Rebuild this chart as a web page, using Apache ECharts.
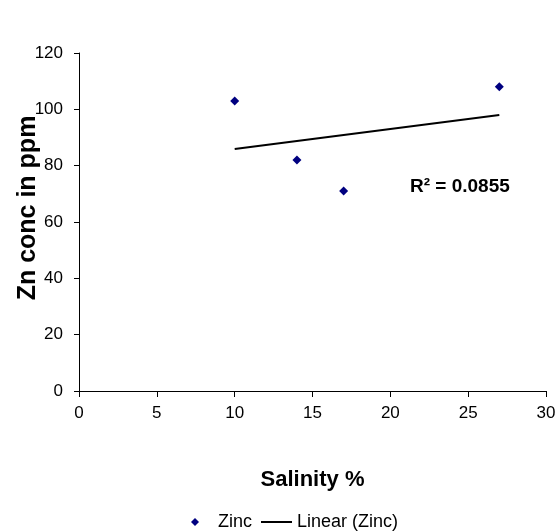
<!DOCTYPE html>
<html>
<head>
<meta charset="utf-8">
<script src="https://cdn.jsdelivr.net/npm/echarts@6/dist/echarts.min.js"></script>
<style>
html, body { margin: 0; padding: 0; background: #fff; }
#Mycharts { width: 557px; height: 531px; }
</style>
</head>
<body>
<div id="Mycharts"></div>
<script>
// data
const salinity = [10, 14, 17, 27]
const zinc = [103, 82, 71, 108]
// linear trend line end points (as drawn)
const trendX = [10, 27]
const trendY = [85.9, 98.0]
const r2Text = 'R² = 0.0855'

const font = "'Liberation Sans', Arial, sans-serif"

let Mycharts = echarts.init(document.getElementById('Mycharts'))
Mycharts.setOption({
  animation: false,
  textStyle: { fontFamily: font },
  grid: { left: 79, right: 11, top: 53, bottom: 140, containLabel: false, outerBoundsMode: 'none' },
  legend: [
    {
      left: 186,
      top: 508,
      itemWidth: 8,
      itemHeight: 8,
      data: [{ name: 'Zinc', icon: 'diamond' }],
      textStyle: { fontSize: 18, color: '#000', fontFamily: font, padding: [0, 0, 0, 14] }
    },
    {
      left: 256,
      top: 508,
      itemWidth: 31,
      itemHeight: 2,
      data: [{ name: 'Linear (Zinc)', icon: 'rect' }],
      textStyle: { fontSize: 18, color: '#000', fontFamily: font }
    }
  ],
  xAxis: {
    type: 'value',
    min: 0,
    max: 30,
    interval: 5,
    name: 'Salinity %',
    nameLocation: 'middle',
    nameGap: 78,
    nameMoveOverlap: false,
    nameTextStyle: { fontSize: 22, fontWeight: 'bold', color: '#000', fontFamily: font },
    axisLine: { lineStyle: { color: '#000', width: 1 } },
    axisTick: { show: true, length: 6, lineStyle: { color: '#000' } },
    axisLabel: { fontSize: 17, color: '#000', margin: 14, fontFamily: font },
    splitLine: { show: false }
  },
  yAxis: {
    type: 'value',
    min: 0,
    max: 120,
    interval: 20,
    name: 'Zn conc in ppm',
    nameLocation: 'middle',
    nameGap: 38,
    nameMoveOverlap: false,
    nameTextStyle: { fontSize: 25, fontWeight: 'bold', color: '#000', fontFamily: font, padding: [0, 0, 0, 28] },
    axisLine: { show: true, lineStyle: { color: '#000', width: 1 } },
    axisTick: { show: true, length: 5, lineStyle: { color: '#000' } },
    axisLabel: { fontSize: 17, color: '#000', margin: 16, fontFamily: font },
    splitLine: { show: false }
  },
  series: [
    {
      name: 'Zinc',
      type: 'scatter',
      symbol: 'diamond',
      symbolSize: 9,
      itemStyle: { color: '#000080', opacity: 1 },
      data: salinity.map((x, i) => [x, zinc[i]]),
      z: 3
    },
    {
      name: 'Linear (Zinc)',
      type: 'line',
      showSymbol: false,
      symbol: 'none',
      lineStyle: { color: '#000', width: 2 },
      itemStyle: { color: '#000' },
      data: trendX.map((x, i) => [x, trendY[i]])
    }
  ],
  graphic: [
    {
      type: 'text',
      left: 410,
      top: 177,
      style: { text: r2Text, fontSize: 19, fontWeight: 'bold', fill: '#000', fontFamily: font }
    }
  ]
})
</script>
</body>
</html>
